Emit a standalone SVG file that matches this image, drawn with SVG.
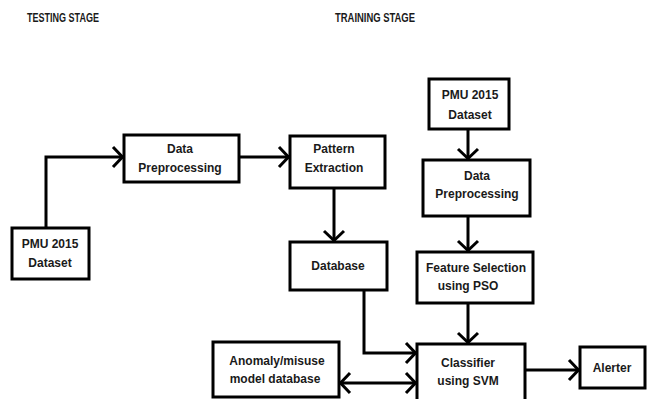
<svg xmlns="http://www.w3.org/2000/svg" width="648" height="399" viewBox="0 0 648 399">
<style>
.box{fill:#fff;stroke:#000;stroke-width:3}
.t{font-family:"Liberation Sans",Arial,sans-serif;font-weight:bold;font-size:12px;fill:#1a1a1a;text-anchor:middle}
.h{font-family:"Liberation Sans",Arial,sans-serif;font-weight:bold;font-size:12px;fill:#1a1a1a}
.c{fill:none;stroke:#000;stroke-width:3}
</style>
<defs>
<marker id="ah" markerUnits="userSpaceOnUse" markerWidth="30" markerHeight="30" viewBox="-15 -15 30 30" refX="0" refY="0" orient="auto-start-reverse" overflow="visible">
<path d="M-10,-10 L-0.5,0 L-10,10" fill="none" stroke="#000" stroke-width="3"/>
</marker>
</defs>
<rect width="648" height="399" fill="#fff"/>
<text class="h" x="27" y="21.5" textLength="72" lengthAdjust="spacingAndGlyphs">TESTING STAGE</text>
<text class="h" x="335" y="21.5" textLength="80" lengthAdjust="spacingAndGlyphs">TRAINING STAGE</text>
<g id="connectors">
<path class="c" d="M46,228 V157 H123" marker-end="url(#ah)"/>
<path class="c" d="M239,157 H289" marker-end="url(#ah)"/>
<path class="c" d="M334,188 V241" marker-end="url(#ah)"/>
<path class="c" d="M364,290 V353 H416" marker-end="url(#ah)"/>
<path class="c" d="M340,383 H416" marker-start="url(#ah)" marker-end="url(#ah)"/>
<path class="c" d="M525,370 H579" marker-end="url(#ah)"/>
<path class="c" d="M468,129 V159" marker-end="url(#ah)"/>
<path class="c" d="M468,216 V251" marker-end="url(#ah)"/>
<path class="c" d="M468,303 V343" marker-end="url(#ah)"/>
</g>
<g id="pmu-test">
<rect class="box" x="12" y="228" width="77" height="51"/>
<text class="t" x="50" y="248">PMU 2015</text>
<text class="t" x="50" y="267">Dataset</text>
</g>
<g id="dp-test">
<rect class="box" x="124" y="135" width="115" height="47"/>
<text class="t" x="180" y="153">Data</text>
<text class="t" x="180" y="172">Preprocessing</text>
</g>
<g id="pattern">
<rect class="box" x="290" y="136" width="95" height="52"/>
<text class="t" x="334" y="153">Pattern</text>
<text class="t" x="334" y="172">Extraction</text>
</g>
<g id="database">
<rect class="box" x="290" y="242" width="97" height="48"/>
<text class="t" x="338" y="270">Database</text>
</g>
<g id="pmu-train">
<rect class="box" x="429" y="79" width="80" height="50"/>
<text class="t" x="470" y="99">PMU 2015</text>
<text class="t" x="470" y="119">Dataset</text>
</g>
<g id="dp-train">
<rect class="box" x="423" y="160" width="107" height="56"/>
<text class="t" x="477" y="180">Data</text>
<text class="t" x="477" y="198">Preprocessing</text>
</g>
<g id="feature">
<rect class="box" x="417" y="252" width="116" height="51"/>
<text class="t" x="476" y="272">Feature Selection</text>
<text class="t" x="468" y="290">using PSO</text>
</g>
<g id="classifier">
<rect class="box" x="417" y="344" width="108" height="70"/>
<text class="t" x="468" y="367">Classifier</text>
<text class="t" x="468" y="385">using SVM</text>
</g>
<g id="anomaly">
<rect class="box" x="213" y="342" width="126" height="55"/>
<text class="t" x="277" y="365">Anomaly/misuse</text>
<text class="t" x="275" y="383">model database</text>
</g>
<g id="alerter">
<rect class="box" x="580" y="347" width="65" height="41"/>
<text class="t" x="612" y="372">Alerter</text>
</g>
</svg>
